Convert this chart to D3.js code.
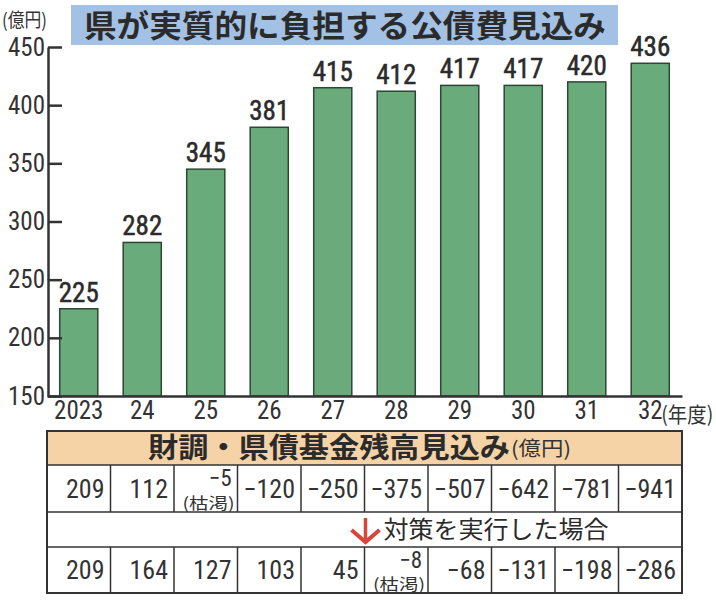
<!DOCTYPE html>
<html><head><meta charset="utf-8">
<script src="https://cdn.jsdelivr.net/npm/d3@7"></script>
<style>body{margin:0;background:#fff}svg{display:block}</style>
</head><body>
<svg id="c" width="716" height="600"></svg>
<script>
const years = ["2023","24","25","26","27","28","29","30","31","32"];
const burden = [225,282,345,381,415,412,417,417,420,436];
const yTicks = [150,200,250,300,350,400,450];
const fundBase = [209,112,-5,-120,-250,-375,-507,-642,-781,-941];
const fundMeasure = [209,164,127,103,45,-8,-68,-131,-198,-286];
const depletedBase = 2, depletedMeasure = 5;
const title = "県が実質的に負担する公債費見込み";
const tableTitle = "財調・県債基金残高見込み";
const measureText = "対策を実行した場合";

const svg = d3.select("#c");
const NUM = "'Liberation Sans Narrow','Arial Narrow','Roboto Condensed',sans-serif";
const CJK = "'Noto Sans CJK JP',sans-serif";
const ink = "#333";

const x = d3.scaleBand().domain(years).range([47,682]).paddingInner(0.4).paddingOuter(0.2);
const col = d3.scaleBand().domain(years).range([47,682]);
const y = d3.scaleLinear().domain([150,450]).range([396,47]);

// title
svg.append("rect").attr("x",71).attr("y",5).attr("width",547).attr("height",40).attr("fill","#a3c1e4");
svg.append("text").attr("x",84).attr("y",37).attr("font-family",CJK).attr("font-weight",700)
  .attr("font-size",31).attr("fill","#2b2b2b").attr("textLength",522).attr("lengthAdjust","spacingAndGlyphs").text(title);
svg.append("text").attr("x",2).attr("y",27).attr("font-family",CJK).attr("font-size",19).attr("fill",ink)
  .attr("textLength",45).attr("lengthAdjust","spacingAndGlyphs").text("(億円)");

// bars
svg.append("g").selectAll("rect").data(burden).join("rect")
  .attr("x",(d,i)=>x(years[i])).attr("width",x.bandwidth())
  .attr("y",d=>y(d)).attr("height",d=>y(150)-y(d))
  .attr("fill","#6aab7b").attr("stroke","#2e4634").attr("stroke-width",1.5);
svg.append("g").selectAll("text").data(burden).join("text")
  .attr("x",(d,i)=>x(years[i])+x.bandwidth()/2).attr("y",d=>y(d)-7)
  .attr("text-anchor","middle").attr("font-family",NUM)
  .attr("font-size",27).attr("fill","#2b2b2b").attr("stroke","#2b2b2b").attr("stroke-width",0.5).text(d=>d);

// y axis
const ya = svg.append("g").attr("transform","translate(48,0)")
  .call(d3.axisLeft(y).tickValues(yTicks).tickSizeInner(-14).tickSizeOuter(0).tickPadding(3));
ya.select(".domain").attr("stroke",ink).attr("stroke-width",2.5);
ya.selectAll(".tick line").attr("stroke",ink).attr("stroke-width",2.5);
ya.selectAll(".tick text").attr("font-family",NUM).attr("font-size",25).attr("fill",ink);

// x axis
const xa = svg.append("g").attr("transform","translate(0,396)")
  .call(d3.axisBottom(x).tickSize(0).tickPadding(5));
xa.select(".domain").attr("stroke",ink).attr("stroke-width",2.5);
xa.selectAll(".tick text").attr("font-family",NUM).attr("font-size",25).attr("fill",ink);
svg.append("text").attr("x",x("32")+x.bandwidth()/2+11).attr("y",422).attr("font-family",CJK)
  .attr("font-size",21).attr("fill",ink).attr("textLength",52).attr("lengthAdjust","spacingAndGlyphs").text("(年度)");

// table
const T = {l:47, r:682, top:431, h1:465, h2:512, h3:547, bot:593};
const tg = svg.append("g");
tg.append("rect").attr("x",T.l).attr("y",T.top).attr("width",T.r-T.l).attr("height",T.h1-T.top)
  .attr("fill","#f6d3a6");
tg.append("rect").attr("x",T.l).attr("y",T.top).attr("width",T.r-T.l).attr("height",T.bot-T.top)
  .attr("fill","none").attr("stroke",ink).attr("stroke-width",2);
[T.h1,T.h2,T.h3].forEach(yy=>tg.append("line").attr("x1",T.l).attr("x2",T.r).attr("y1",yy).attr("y2",yy)
  .attr("stroke",ink).attr("stroke-width",1.5));
years.slice(1).forEach(yr=>{
  tg.append("line").attr("x1",col(yr)).attr("x2",col(yr)).attr("y1",T.h1).attr("y2",T.h2).attr("stroke",ink).attr("stroke-width",1.5);
  tg.append("line").attr("x1",col(yr)).attr("x2",col(yr)).attr("y1",T.h3).attr("y2",T.bot).attr("stroke",ink).attr("stroke-width",1.5);
});
tg.append("text").attr("x",148).attr("y",458).attr("fill","#2b2b2b").attr("font-family",CJK)
  .attr("font-weight",700).attr("font-size",28).attr("textLength",362).attr("lengthAdjust","spacingAndGlyphs").text(tableTitle);
tg.append("text").attr("x",511).attr("y",456).attr("fill",ink).attr("font-family",CJK)
  .attr("font-size",20).attr("textLength",60).attr("lengthAdjust","spacingAndGlyphs").text("(億円)");

const fmt = v => v<0 ? "\u2212"+Math.abs(v) : String(v);
function row(vals, dep, top, bottom){
  vals.forEach((v,i)=>{
    const xr = col(years[i]) + col.bandwidth() - 6;
    if(i===dep){
      tg.append("text").attr("x",xr).attr("y",top+21).attr("text-anchor","end").attr("font-family",NUM)
        .attr("font-size",23).attr("fill",ink).text(fmt(v));
      tg.append("text").attr("x",xr+3).attr("y",bottom-3).attr("text-anchor","end").attr("font-family",CJK)
        .attr("font-size",16).attr("fill",ink).attr("textLength",52).attr("lengthAdjust","spacingAndGlyphs").text("(枯渇)");
    } else {
      tg.append("text").attr("x",xr).attr("y",(top+bottom)/2+9).attr("text-anchor","end").attr("font-family",NUM)
        .attr("font-size",26).attr("fill",ink).text(fmt(v));
    }
  });
}
row(fundBase, depletedBase, T.h1, T.h2);
row(fundMeasure, depletedMeasure, T.h3, T.bot);

// arrow + measure text
const ax = col("28");
tg.append("line").attr("x1",ax+1).attr("x2",ax+1).attr("y1",T.h2+6).attr("y2",T.h3-8).attr("stroke","#d8453b").attr("stroke-width",3.5);
tg.append("path").attr("d",`M${ax-13},${T.h3-17} L${ax+1},${T.h3-5} L${ax+15},${T.h3-17}`)
  .attr("fill","none").attr("stroke","#d8453b").attr("stroke-width",4);
tg.append("text").attr("x",ax+19).attr("y",T.h3-9).attr("font-family",CJK).attr("font-size",24)
  .attr("fill","#2b2b2b").attr("textLength",225).attr("lengthAdjust","spacingAndGlyphs").text(measureText);
</script>
</body></html>
